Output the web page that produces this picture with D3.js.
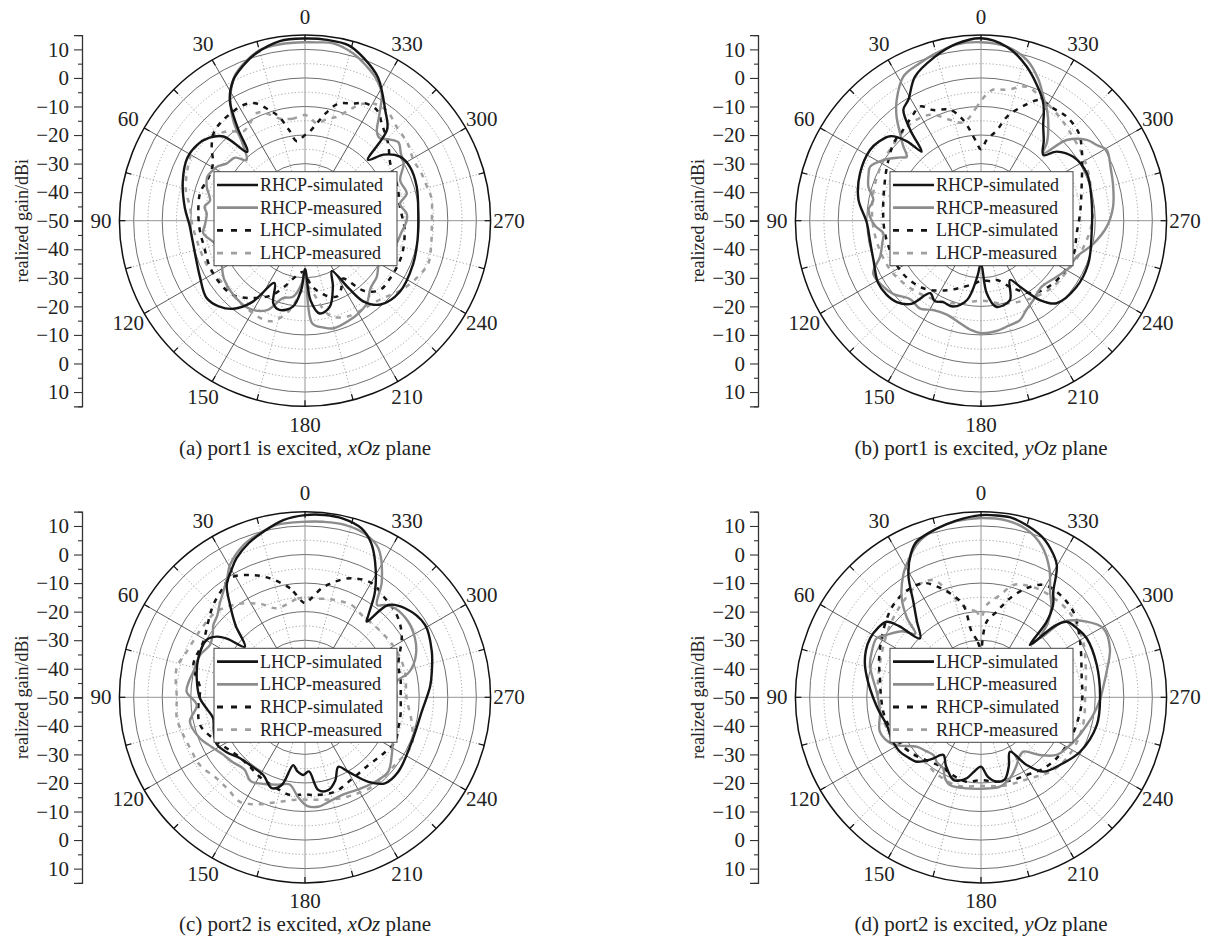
<!DOCTYPE html>
<html><head><meta charset="utf-8">
<script src="https://cdn.jsdelivr.net/npm/d3@7"></script>
<style>
body{margin:0;background:#fff}
</style></head>
<body><svg id="chart" width="1214" height="939" font-family="'Liberation Serif', 'Times New Roman', Times, serif"></svg>
<script>
// ---------- data ----------
const angleTicks = [0,30,60,90,120,150,180,210,240,270,300,330];
const radialDomain = [-50, 15];
const axisTicks = [15,10,5,0,-5,-10,-15,-20,-25,-30,-35,-40,-45,-50];
const gainLabel = "realized gain/dBi";

// panel (a): port1, xOz
const aCoSim = [[0,13.8],[8,13.5],[17,10.8],[22,8.3],[27,5.3],[32,-0.3],[36,-10],[40,-18.5],[44,-9],[49,-5.7],[55,-3.8],[62,-3.3],[72,-5],[84,-7.7],[92,-9.5],[100,-10],[110,-9.5],[118,-8.3],[128,-6.2],[135,-7.5],[141,-10.3],[147,-16],[154,-25.7],[159,-19],[164,-17.5],[172,-19.6],[177,-26],[180,-33],[184,-22],[189,-17.1],[196,-18.6],[203,-25],[208,-30],[213,-21.6],[216,-15],[222,-10.5],[233,-8.5],[248,-9.2],[260,-10],[272,-10.3],[287,-9.1],[297,-8.7],[304,-9.9],[310,-14],[314,-19.3],[318,-7],[324,-2.2],[333,6.3],[340,10.5],[346,13.3],[353,13.8]];
const aCoMeas = [[0,12.5],[8,12.4],[15,11.8],[21,9.2],[26,6.3],[30,2],[33,-2.2],[36,-7.6],[39,-15.3],[44,-20.5],[48,-17],[54,-16],[58,-14],[61,-13.3],[66,-12.5],[71,-13.6],[78,-16],[82,-14.5],[86,-15.5],[92,-15],[97,-14.1],[103,-17],[110,-19],[118,-17],[126,-15],[135,-14],[147,-13.5],[157,-16],[164,-21.8],[171,-23],[177,-28],[180,-33],[184,-14],[190,-12],[195,-11],[204,-11.8],[210,-12.5],[217,-13.9],[224,-17],[232,-18.1],[240,-20],[248,-19],[256,-17],[263,-16],[270,-14.4],[274,-14.3],[280,-16.2],[285,-13.1],[293,-13.8],[300,-10.1],[305,-9],[310,-7.3],[314,-9],[318,-11],[321,-10],[325,-4.6],[329,2.1],[334,6],[338,8.1],[344,11],[351,12.9],[356,12.6]];
const aXSim = [[0,-20],[6,-22],[10,-17.7],[14,-12.5],[18,-9.2],[23,-5.3],[28,-4.1],[35,-4.3],[41,-4.7],[46,-5.6],[52,-8.5],[58,-12],[66,-13],[75,-12],[85,-12.5],[95,-13],[105,-13.5],[115,-13],[126,-13],[136,-13.8],[146,-17.3],[156,-21.5],[163,-26],[170,-30],[178,-32],[186,-27],[195,-23],[203,-21.2],[208,-23],[213,-25.8],[220,-18],[227,-14.3],[236,-14],[250,-14],[265,-15],[278,-16.4],[290,-15.5],[304,-14],[313,-10.2],[321,-7],[327,-3.8],[333,-3.8],[338,-5.8],[344,-7.3],[349,-11.6],[353,-15.6],[358,-19.4]];
const aXMeas = [[0,-13],[7,-14],[14,-13.1],[20,-10],[24,-8.7],[30,-11],[35,-12],[40,-9],[44,-7.3],[50,-5],[58,-3.7],[68,-5.4],[76,-7],[83,-9.4],[92,-10.5],[100,-11.5],[108,-12],[117,-12.5],[130,-14.1],[140,-13.5],[148,-13],[155,-12.5],[162,-13],[170,-18],[177,-25],[182,-27],[187,-24],[192,-18],[196,-15],[204,-13.3],[212,-13],[220,-12.5],[227,-11],[234,-8.5],[243,-6],[251,-4.3],[259,-5],[266,-5.5],[273,-5.5],[280,-5],[286,-5.7],[293,-6],[299,-6.5],[307,-5],[316,-4],[323,-2],[329,-2.3],[334,-4.5],[338,-8],[343,-12],[348,-13.6],[353,-15.7],[357,-14]];

// panel (b): port1, yOz
const bCoSim = [[0,13.9],[8,12.5],[16,9.5],[24.6,5.5],[31,-0.6],[35,-2.6],[38,-10],[40.7,-18.1],[43,-12],[47,-6.6],[52,-4.8],[57.5,-3.9],[68.6,-4.5],[80,-6.4],[91,-10],[100,-10.5],[110,-9.9],[121,-7.9],[128,-8],[134,-9],[140,-12],[145,-19],[150,-17.5],[155,-18.5],[162,-18.4],[170,-21.8],[176,-30],[180,-35],[184.5,-24.5],[190,-19.4],[200,-20.4],[206,-26.9],[210.6,-23.1],[216.6,-15.4],[222.5,-10.8],[235,-9.3],[248,-9.5],[263.5,-11],[280.6,-10.6],[294,-9.4],[304.7,-10.7],[312.4,-14.1],[316.5,-18.3],[322,-14.3],[327,-10],[330,-6],[333,-2.5],[343.5,6.3],[351.6,11.6]];
const bCoMeas = [[0,12.5],[8,12.3],[16,10.5],[22,9],[28.4,7.3],[34.9,1.6],[39,-3],[42.8,-8.3],[46,-12],[49.3,-15.7],[52,-14],[58.2,-9.7],[64,-6.8],[68,-7.5],[73.2,-8.8],[79.1,-11.6],[84,-10.5],[88,-11.1],[93,-13],[97.3,-15.5],[103,-14.5],[109.6,-12.5],[116,-8],[124,-8.7],[130,-10],[138,-13],[145,-12.5],[152,-14.5],[160,-15],[168,-13.5],[175,-11.5],[180,-10.6],[188,-11],[195,-12],[201.4,-12.6],[207,-15],[213.4,-16.7],[222.6,-18.6],[233.5,-17],[242,-15],[249.4,-14.2],[258,-10],[267.3,-5.9],[276,-3.5],[284.4,-2.2],[292,-1],[299.4,0.5],[303,-1.5],[307.4,-3.4],[313.3,-8.8],[317.2,-17.8],[320,-14],[324.4,-9.5],[329,-5],[333.3,-1.4],[338,3.5],[344,8.5],[351,11.5]];
const bXSim = [[0,-25],[4,-21.7],[10,-14.2],[15.6,-9.7],[23.3,-7.8],[28,-4.7],[33,-6],[40,-8],[48,-9],[60,-12],[70,-14],[82,-15.4],[95,-16],[110,-16.5],[125,-17],[140,-19],[154,-22.9],[165,-26],[175,-28],[180,-29],[190,-28.5],[195,-28.5],[205,-24],[215,-19],[222,-17.4],[235,-16],[250,-15.5],[262.5,-16.2],[274.3,-15.2],[288.7,-12.8],[305,-6.9],[312,-4],[320.5,-2.8],[327,-3.2],[334,-3],[340,-7.4],[346,-12.5],[350,-17.8],[356,-21.7]];
const bXMeas = [[0,-8],[2,-10],[10,-15],[17,-13.1],[25,-9],[35,-8],[45,-9],[60,-10],[75,-11],[90,-12],[105,-13],[120,-14],[135,-16],[150,-18],[165,-20],[180,-22],[195,-20],[210,-18],[225,-16],[240,-15],[255,-13],[270,-11],[285,-10],[300,-8],[315,-6],[325,-4],[333,-2.4],[341,-0.4],[349,-3.3],[355,-4]];

// panel (c): port2, xOz
const cCoSim = [[0,13.8],[7,12.5],[14.1,9.8],[20,7.5],[26.2,4.3],[30,1.5],[34.9,-2.1],[39.1,-8.4],[44,-15],[49.9,-22.5],[53,-16],[55.5,-12.5],[59.8,-10.1],[69.9,-10.2],[80,-11.5],[90.5,-13.2],[97,-15.5],[102.9,-17],[110,-16],[118,-15],[125,-16.5],[133.2,-18.8],[142,-19.5],[151.8,-19.1],[159.9,-16.1],[165.1,-18.2],[170.2,-25.9],[174,-24],[178.8,-22.8],[183,-24],[188.2,-17.2],[194.1,-16.5],[200,-19],[205.6,-23],[210.2,-19.8],[216.9,-13],[222.9,-8.9],[231.4,-8.2],[247.4,-9.5],[263,-8.8],[275,-6],[281.4,-4.7],[289.8,-2.8],[301.1,-0.9],[311.7,-3.1],[318,-6.5],[320.8,-15.8],[322.4,-13.6],[326.5,-5.6],[332.7,3.5],[337,9],[341.5,12.4],[348,14],[354,14.2]];
const cCoMeas = [[0,11.5],[9.3,11.2],[16,9.5],[22,7.5],[29.5,3.3],[33,0],[37.7,-3.2],[43,-6],[47,-8],[51.7,-9.1],[56,-11],[61.2,-12],[68.1,-10.4],[77.1,-9.9],[82,-9],[87.3,-8.5],[94.1,-12],[102,-8.8],[111.3,-10.5],[118,-13],[125,-15],[132,-16],[140,-17],[147,-15],[155,-16.5],[163,-18],[170,-19],[176,-15],[181,-12],[186.9,-11.4],[193,-12.5],[200.6,-13.4],[211.9,-12.5],[221.6,-11.3],[228.2,-10.9],[236.4,-13.5],[245,-16],[259,-17.9],[270,-18],[279.7,-17.4],[283,-13],[286.6,-10.4],[292,-8],[298.2,-6.3],[306.2,-5.2],[314.7,-5.7],[319.1,-7.2],[322,-9],[326.4,-1.4],[333.8,8.2],[340,11],[347,12],[354,11.8]];
const cXSim = [[0,-17],[7.8,-11.5],[16.4,-6.6],[24.2,-3],[32.2,-0.7],[38,-2.5],[44.8,-4.4],[52,-7],[61.3,-9.4],[73.9,-9.3],[85,-13.1],[95,-12.5],[104.8,-12],[115,-15],[122,-17],[130.2,-18.7],[140,-19],[150,-18],[160,-17],[171.3,-15.4],[180,-16],[186,-15.6],[197.6,-15.3],[210,-17],[223,-17.5],[233,-16.4],[243.7,-14.8],[251.6,-15.6],[260,-16],[270,-16.5],[280,-16],[289.1,-15.4],[302.8,-9.7],[311.9,-6.8],[321.1,-5.4],[329.7,-3.7],[338.6,-5.2],[345.5,-8.2],[351.3,-11.4],[356,-15]];
const cXMeas = [[0,-15],[5,-15.5],[17.6,-17.3],[25,-14],[35,-10],[45.9,-6.9],[55,-6.5],[68.9,-5.6],[77.3,-3.9],[90.4,-5.1],[99.3,-4.5],[105.6,-5.2],[114,-6],[122.8,-6.2],[132.5,-8],[140,-8],[148.1,-6.9],[156,-9],[165,-12],[175,-14],[185,-14],[195,-13],[205,-12],[218.6,-10.7],[233.1,-10.6],[245.9,-9.1],[257.1,-11.7],[269.4,-14.4],[284.4,-13.9],[295,-14],[305,-14.5],[315,-15],[325.4,-15],[333.2,-13.8],[345,-14.5],[354.2,-15.2]];

// panel (d): port2, yOz
const dCoSim = [[0,13.8],[8,12.5],[15,11],[22.5,9],[26,6],[30.7,-0.2],[35.3,-9],[40,-15],[46,-20.3],[49,-12],[51.3,-7.7],[56,-6.5],[62,-6],[68,-6.5],[74.4,-7.8],[82,-10],[90.5,-12.3],[98,-14],[106.4,-15.6],[115,-15.5],[123.9,-15.8],[130,-17],[135,-18.1],[141,-22],[146.8,-25.9],[153,-23],[161.5,-19.5],[166,-20],[170,-21.2],[175,-24],[180,-25.7],[185,-22],[190.5,-19.9],[196,-20],[202,-24],[208,-28.4],[214,-21.4],[220,-16],[229.4,-13.6],[241.2,-10.4],[256.5,-8.3],[268.9,-8.3],[285.6,-7.9],[299.2,-7.6],[305,-8.5],[311.4,-10],[314,-14],[317,-24.9],[319,-15],[322,-9],[325.6,-5.2],[330.2,3.4],[335,7.5],[340,10.5],[349.8,13.7],[355,13.9]];
const dCoMeas = [[0,12.8],[8,12.3],[15,11],[22,8.5],[27,5],[32.4,0.8],[38.7,-5.6],[43,-12],[46,-18],[50,-14],[56.5,-10.4],[60.5,-8],[67,-8.5],[73.8,-9.5],[80,-11.5],[87,-13.4],[98.1,-14.3],[108.8,-12.6],[118,-15],[127.5,-21.6],[134,-23],[140.4,-23.8],[146,-22.5],[152,-21.8],[156,-19],[160.5,-17.4],[171,-17.7],[183.6,-18],[192,-18],[200,-20],[207.8,-23.2],[212,-25],[217.9,-25.9],[225.6,-21.1],[232.7,-16.7],[240,-15],[246.8,-13.5],[255.3,-11.7],[262,-10],[269,-8.3],[275,-7],[281.5,-5.1],[290.8,-1.7],[299.4,-0.8],[305.6,-4.5],[312.6,-10.8],[315,-20.8],[318,-15],[322,-10],[326.8,-5.8],[332,1],[338,7],[345,11],[352,12.6]];
const dXSim = [[0,-33],[4,-30],[8.1,-26.8],[10.9,-17.1],[16.6,-12],[22,-8],[26.8,-5.2],[35,-4.5],[43.5,-5.4],[50,-7],[59.3,-9.5],[70,-12],[79.3,-14],[90,-15],[100,-15.5],[110,-16.5],[120,-17.5],[130,-19],[140,-21],[150,-22],[160,-21],[170,-20],[180,-21],[190,-20],[200,-19],[210,-18.5],[220,-17],[231.1,-16],[245,-15.5],[260,-15],[270,-14.5],[280.7,-14.1],[299.3,-10.2],[312.8,-5.9],[324.4,-4.5],[331,-5],[337.3,-8.6],[343.7,-13.9],[349.6,-19.5],[355.7,-23.4],[358,-28]];
const dXMeas = [[0,-22],[3,-20],[9.1,-18.4],[15.4,-13.5],[22.1,-5.7],[30,-5],[40,-7],[50,-9],[60,-11],[75,-13],[90,-14],[105,-15],[120,-17],[135,-20],[150,-19],[165,-18],[180,-19],[195,-18],[210,-17],[225,-14],[240,-13],[255,-13],[270,-13.5],[285,-12],[300,-9],[315,-7],[330,-7],[340,-8],[344,-9.1],[349.5,-13.6],[356.5,-17.6]];

const legendPort1 = ["RHCP-simulated","RHCP-measured","LHCP-simulated","LHCP-measured"];
const legendPort2 = ["LHCP-simulated","LHCP-measured","RHCP-simulated","RHCP-measured"];
const captionsPre = ["(a) port1 is excited, ","(b) port1 is excited, ","(c) port2 is excited, ","(d) port2 is excited, "];
const captionsPlane = ["xOz","yOz","xOz","yOz"];

// ---------- layout / styles ----------
const FONT = "'Liberation Serif', 'Times New Roman', Times, serif";
const R = 185.6;
const panels = [
  {cx:305, cy:220.7, series:[aCoSim,aCoMeas,aXSim,aXMeas], legend:legendPort1},
  {cx:981, cy:220.7, series:[bCoSim,bCoMeas,bXSim,bXMeas], legend:legendPort1},
  {cx:305, cy:697.3, series:[cCoSim,cCoMeas,cXSim,cXMeas], legend:legendPort2},
  {cx:981, cy:697.3, series:[dCoSim,dCoMeas,dXSim,dXMeas], legend:legendPort2}
];
const styles = [
  {stroke:"#151515", dash:null, w:2.4},
  {stroke:"#8c8c8c", dash:null, w:2.4},
  {stroke:"#151515", dash:"5,6", w:2.5},
  {stroke:"#a0a0a0", dash:"5,6", w:2.5}
];
const drawOrder = [3,2,1,0];

const svg = d3.select("#chart");
const r = d3.scaleLinear().domain(radialDomain).range([0, R]);
const rad = a => a * Math.PI / 180;

panels.forEach((p, pi) => {
  const g = svg.append("g").attr("transform", `translate(${p.cx},${p.cy})`);
  const solidRings = d3.range(-40, 15, 10);
  const dotRings = d3.range(-45, 15, 10);
  g.selectAll(".dr").data(dotRings).join("circle")
    .attr("r", d => r(d)).attr("fill","none").attr("stroke","#8a8a8a")
    .attr("stroke-width",0.8).attr("stroke-dasharray","1.2,2.2");
  const dotSpokes = d3.range(15, 360, 30);
  g.selectAll(".ds").data(dotSpokes).join("line")
    .attr("x1",0).attr("y1",0)
    .attr("x2", d => -R*Math.sin(rad(d))).attr("y2", d => -R*Math.cos(rad(d)))
    .attr("stroke","#8a8a8a").attr("stroke-width",0.8).attr("stroke-dasharray","1.2,2.2");
  g.selectAll(".sr").data(solidRings).join("circle")
    .attr("r", d => r(d)).attr("fill","none").attr("stroke","#4a4a4a").attr("stroke-width",0.8);
  g.selectAll(".ss").data(angleTicks).join("line")
    .attr("x1",0).attr("y1",0)
    .attr("x2", d => -R*Math.sin(rad(d))).attr("y2", d => -R*Math.cos(rad(d)))
    .attr("stroke", d => d % 90 === 0 ? "#8a8a8a" : "#4a4a4a").attr("stroke-width",0.9);
  g.selectAll(".ot").data(d3.range(0,360,15)).join("line")
    .attr("x1", d => -(R-6)*Math.sin(rad(d))).attr("y1", d => -(R-6)*Math.cos(rad(d)))
    .attr("x2", d => -R*Math.sin(rad(d))).attr("y2", d => -R*Math.cos(rad(d)))
    .attr("stroke","#111").attr("stroke-width",1.2);
  g.append("circle").attr("r",R).attr("fill","none").attr("stroke","#111").attr("stroke-width",1.5);
  g.selectAll(".al").data(angleTicks).join("text")
    .attr("x", d => -204*Math.sin(rad(d))).attr("y", d => -204*Math.cos(rad(d)))
    .attr("text-anchor","middle").attr("dominant-baseline","central")
    .attr("font-family",FONT).attr("font-size",21).attr("fill","#222").text(d => d);

  const line = d3.lineRadial()
    .angle(d => -rad(d[0])).radius(d => r(d[1]))
    .curve(d3.curveCatmullRomClosed.alpha(0.5));
  drawOrder.forEach(si => {
    const st = styles[si];
    g.append("path").attr("d", line(p.series[si])).attr("fill","none")
      .attr("stroke", st.stroke).attr("stroke-width", st.w)
      .attr("stroke-dasharray", st.dash).attr("stroke-linejoin","round");
  });

  const lg = g.append("g");
  lg.append("rect").attr("x",-91).attr("y",-49).attr("width",183).attr("height",94)
    .attr("fill","#fff").attr("stroke","#444").attr("stroke-width",1);
  p.legend.forEach((t, i) => {
    const y = -35.7 + i*22.7;
    const st = styles[i];
    lg.append("line").attr("x1",-88).attr("x2",-47).attr("y1",y).attr("y2",y)
      .attr("stroke",st.stroke).attr("stroke-width",st.w + 0.3).attr("stroke-dasharray", st.dash ? "6,8" : null);
    lg.append("text").attr("x",-45).attr("y",y).attr("dominant-baseline","central")
      .attr("font-family",FONT).attr("font-size",18).attr("fill","#222").text(t);
  });

  const ax = p.cx - 223;
  const yTop = d3.scaleLinear().domain(radialDomain).range([p.cy, p.cy - R]);
  const yBot = d3.scaleLinear().domain(radialDomain).range([p.cy, p.cy + R]);
  const fmt = d => (d % 10 === 0) ? String(d).replace("-", "\u2212") : "";
  [yTop, yBot].forEach((sc, k) => {
    const a = svg.append("g").attr("transform", `translate(${ax},0)`)
      .call(d3.axisLeft(sc).tickValues(k === 0 ? axisTicks : axisTicks.filter(v => v !== -50))
        .tickFormat(fmt).tickSize(8).tickPadding(5));
    a.attr("font-family", FONT).attr("font-size", 21);
    a.select(".domain").attr("stroke","#333").attr("stroke-width",1.3);
    a.selectAll(".tick line").attr("stroke","#333").attr("stroke-width",1.1)
      .attr("x2", d => d % 10 === 0 ? -8 : -4);
    a.selectAll(".tick text").attr("fill","#222");
  });
  svg.append("text").attr("transform", `translate(${p.cx - 283},${p.cy}) rotate(-90)`)
    .attr("text-anchor","middle").attr("dominant-baseline","central")
    .attr("font-family",FONT).attr("font-size",18).attr("fill","#222").text(gainLabel);

  const cap = svg.append("text").attr("x", p.cx).attr("y", p.cy + 227)
    .attr("text-anchor","middle").attr("dominant-baseline","central")
    .attr("font-family",FONT).attr("font-size",21).attr("fill","#222");
  cap.append("tspan").text(captionsPre[pi]);
  cap.append("tspan").attr("font-style","italic").text(captionsPlane[pi]);
  cap.append("tspan").text(" plane");
});
</script>
</body></html>
